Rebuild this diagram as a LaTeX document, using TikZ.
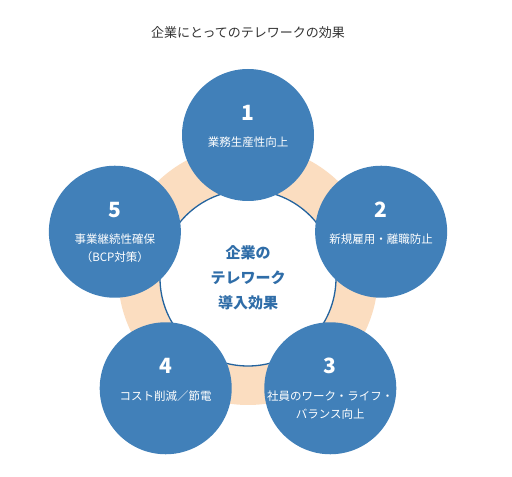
\documentclass[tikz,border=0pt]{standalone}
\usepackage{fontspec}
\setmainfont{Noto Sans CJK JP}
\usetikzlibrary{positioning}
\definecolor{bubbleblue}{HTML}{4180B9}
\definecolor{hubblue}{HTML}{23639E}
\definecolor{hubtext}{HTML}{2F6DA8}
\definecolor{ringpeach}{HTML}{FBDDC0}
\definecolor{titlegray}{HTML}{333333}
\begin{document}
\begin{tikzpicture}[x=1pt,y=1pt,line join=round,
    bubble/.style={circle,fill=bubbleblue,minimum size=132pt,inner sep=0pt},
    hub/.style={circle,draw=hubblue,line width=1.3pt,fill=white,minimum size=176pt,
      inner sep=0pt,align=center,text=hubtext,font=\bfseries\fontsize{15}{25}\selectfont},
    num/.style={inner sep=0pt,text=white,font=\bfseries\fontsize{21}{24}\selectfont},
    caption/.style={inner sep=0pt,text=white,align=center,font=\fontsize{11.5}{18}\selectfont}]
    \useasboundingbox (0,0) rectangle (512,477);
    \node[text=titlegray,font=\fontsize{13}{16}\selectfont] (title) at (248,444) {企業にとってのテレワークの効果};
    \coordinate (ctr) at (248,202);
    % ring behind the circles
    \fill[ringpeach] (ctr) circle (130);
    \node[hub] (hub) at ([yshift=-3]ctr) {企業の\\テレワーク\\導入効果};
    \foreach \n/\ang/\txt in {1/90/{業務生産性向上},2/18/{新規雇用・離職防止},
        3/-54/{社員のワーク・ライフ・\\バランス向上},4/234/{コスト削減／節電},
        5/162/{事業継続性確保\\（BCP対策）}}{
      \path (ctr) ++(\ang:140) node[bubble] (c\n) {};
      \node[num] (n\n) at ([yshift=22]c\n.center) {\n};
      \node[caption,below=16pt of n\n] (t\n) {\txt};
    }
\end{tikzpicture}
\end{document}
